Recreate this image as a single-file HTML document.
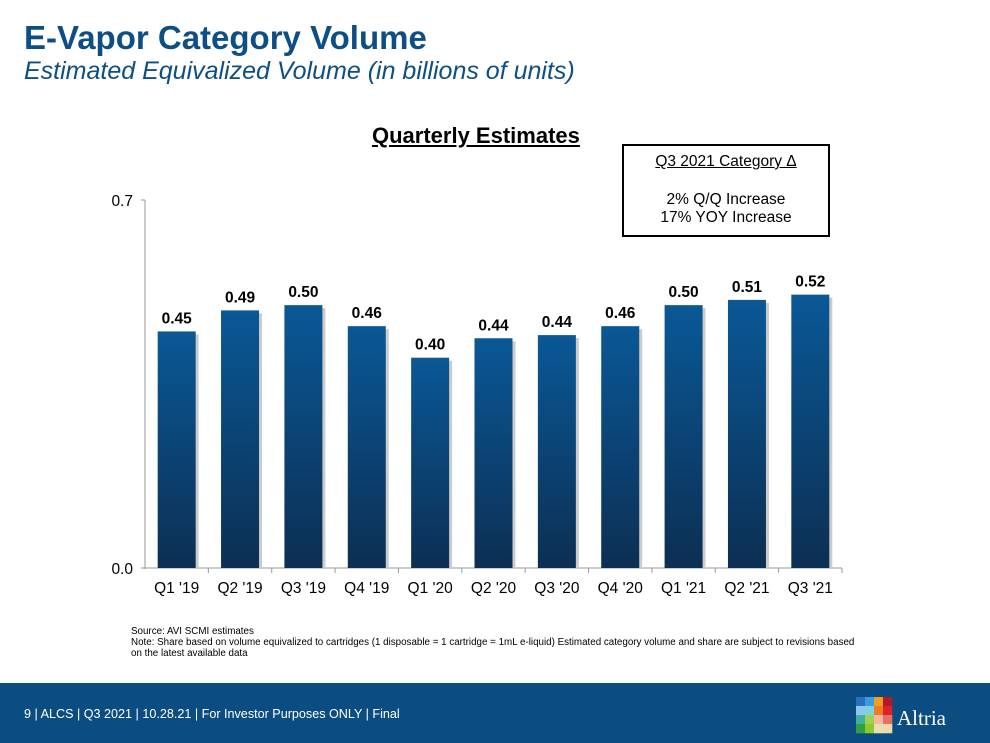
<!DOCTYPE html>
<html><head><meta charset="utf-8"><style>
body{margin:0;width:990px;height:743px;position:relative;background:#fff;font-family:"Liberation Sans",sans-serif;overflow:hidden}
.abs{position:absolute}
</style></head><body>
<div class="abs" style="left:24px;top:19px;font-size:33px;font-weight:bold;color:#0d4f85">E-Vapor Category Volume</div>
<div class="abs" style="left:24px;top:57px;font-size:25px;font-style:italic;color:#0d4f85">Estimated Equivalized Volume (in billions of units)</div>
<div class="abs" style="left:372px;top:123px;font-size:22px;font-weight:bold;text-decoration:underline;color:#000">Quarterly Estimates</div>
<div class="abs" style="left:622px;top:144px;width:208px;height:93px;border:2px solid #000;font-size:15.5px;text-align:center;color:#000;box-sizing:border-box">
<div style="margin-top:7px;text-decoration:underline">Q3 2021 Category Δ</div>
<div style="margin-top:20px">2% Q/Q Increase</div>
<div>17% YOY Increase</div></div>
<svg class="abs" style="left:0;top:0" width="990" height="680">
<defs><linearGradient id="g" x1="0" y1="0" x2="0" y2="1"><stop offset="0" stop-color="#0a5896"/><stop offset="1" stop-color="#0c2f53"/></linearGradient></defs>
<g id="plot"></g></svg>
<div class="abs" style="left:131px;top:626px;font-size:9.8px;line-height:11px;color:#000">Source: AVI SCMI estimates<br>Note: Share based on volume equivalized to cartridges (1 disposable = 1 cartridge = 1mL e-liquid) Estimated category volume and share are subject to revisions based<br>on the latest available data</div>
<div class="abs" style="left:0;top:683px;width:990px;height:60px;background:#0b4d80"></div>
<div class="abs" style="left:24px;top:707px;font-size:12.6px;color:#fff">9 | ALCS | Q3 2021 | 10.28.21 | For Investor Purposes ONLY | Final</div>
<svg class="abs" style="left:856px;top:697px" width="37" height="37">
<g id="logo"></g></svg>
<div class="abs" style="left:897px;top:706px;font-family:'Liberation Serif',serif;font-size:21px;color:#fff">Altria</div>
<script>
const categories=["Q1 '19","Q2 '19","Q3 '19","Q4 '19","Q1 '20","Q2 '20","Q3 '20","Q4 '20","Q1 '21","Q2 '21","Q3 '21"];
const values=[0.45,0.49,0.50,0.46,0.40,0.437,0.443,0.46,0.50,0.51,0.52];
const valueLabels=["0.45","0.49","0.50","0.46","0.40","0.44","0.44","0.46","0.50","0.51","0.52"];
const yTicks=[0,0.7];
const yTickLabels=["0.0","0.7"];
const ns="http://www.w3.org/2000/svg";
const g=document.getElementById('plot');
const x0=145,x1=842,yb=568,yt=200,ymax=0.7;
const bw=(x1-x0)/categories.length,barW=38;
const y=v=>yb-(v/ymax)*(yb-yt);
function el(t,a,txt){const e=document.createElementNS(ns,t);for(const k in a)e.setAttribute(k,a[k]);if(txt!==undefined)e.textContent=txt;g.appendChild(e);return e;}
let e=el('line',{x1:x0,y1:yt,x2:x0,y2:yb+1,stroke:'#999'});

e=el('line',{x1:x0-4,y1:yb,x2:x1,y2:yb,stroke:'#999'});

yTicks.forEach((t,i)=>{
 el('line',{x1:x0-4,y1:y(t),x2:x0,y2:y(t),stroke:'#999'});
 e=el('text',{x:x0-12,y:y(t)+6,'text-anchor':'end','font-size':15.5,fill:'#000'},yTickLabels[i]);
 
});
categories.forEach((c,i)=>{
 const cx=x0+bw*(i+0.5);
 el('line',{x1:x0+bw*(i+1),y1:yb,x2:x0+bw*(i+1),y2:yb+5,stroke:'#999'});
 el('rect',{x:cx-barW/2+3,y:y(values[i])+3,width:barW,height:yb-y(values[i])-3,fill:'#ccc'});
 e=el('rect',{x:cx-barW/2,y:y(values[i]),width:barW,height:yb-y(values[i]),fill:'url(#g)'});
 
 e=el('text',{x:cx,y:y(values[i])-8,'text-anchor':'middle','font-size':15.5,'font-weight':'bold',fill:'#000'},valueLabels[i]);
 
 e=el('text',{x:cx,y:yb+25,'text-anchor':'middle','font-size':15.5,fill:'#000'},c);
 
});
const colors=[["#2a6fc0","#3b9be0","#f0a020","#b01a2a"],["#8ac8ee","#7fd0e0","#f07a20","#e0202a"],["#40b0a0","#a0d050","#f2b8a0","#e87060"],["#30a040","#90c830","#e8e0b0","#f0d8a8"]];
const lg=document.getElementById('logo');
colors.forEach((r,ri)=>r.forEach((c,ci)=>{const q=document.createElementNS(ns,'rect');q.setAttribute('x',ci*9);q.setAttribute('y',ri*9);q.setAttribute('width',9.3);q.setAttribute('height',9.3);q.setAttribute('fill',c);lg.appendChild(q);}));
</script>
</body></html>
